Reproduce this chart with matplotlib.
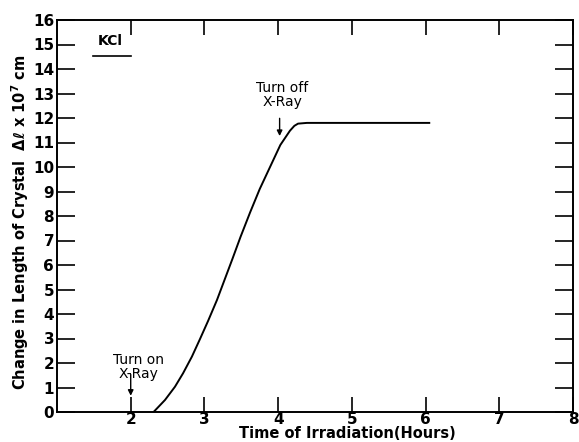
import matplotlib
matplotlib.use("Agg")
import matplotlib.pyplot as plt

# Data
hours = [2.31, 2.465, 2.60, 2.71, 2.83, 2.94, 3.05, 3.17, 3.28, 3.38, 3.49, 3.62, 3.75, 3.89, 4.03, 4.16, 4.22, 4.27, 4.39, 5.0, 5.5, 6.05]
length = [0.0, 0.49, 1.03, 1.58, 2.26, 2.98, 3.72, 4.57, 5.45, 6.25, 7.15, 8.15, 9.10, 10.0, 10.9, 11.48, 11.68, 11.77, 11.80, 11.80, 11.80, 11.80]

xticks = [2, 3, 4, 5, 6, 7, 8]
yticks = list(range(0, 17))

plt.rcParams['font.family'] = ['DejaVu Sans']
fig = plt.figure(figsize=(5.79, 4.42), dpi=100)
ax = fig.add_axes([57/579, 1-412/442, (573-57)/579, (412-20)/442])

ax.plot(hours, length, color='black', lw=1.4, solid_joinstyle='round')

ax.set_xlim(1, 8)
ax.set_ylim(0, 16)
ax.set_xticks(xticks)
ax.set_xticklabels([str(t) for t in xticks], fontsize=11, fontweight='bold')
ax.set_yticks(yticks)
ax.set_yticklabels([str(t) for t in yticks], fontsize=11, fontweight='bold')
ax.tick_params(axis='both', direction='in', length=13, width=1.2, pad=2,
               top=True, right=True)
ax.tick_params(axis='x', pad=0, length=11)
for s in ax.spines.values():
    s.set_linewidth(1.4)

ax.set_xlabel("Time of Irradiation(Hours)", fontsize=10.5, fontweight='bold')
ax.xaxis.set_label_coords((347-57)/(573-57), -0.036)
ax.set_ylabel(r"Change in Length of Crystal  $\mathbf{\Delta\ell}$ x 10$^{\mathbf{7}}$ cm",
              fontsize=10.5, fontweight='bold')
ax.yaxis.set_label_coords((31-57)/(573-57), 0.485)

# KCl label with underline
ax.text(1.72, 15.15, "KCl", fontsize=10, fontweight='bold', ha='center', va='center')
ax.plot([1.49, 2.0], [14.55, 14.55], color='black', lw=1.2)

# annotations
ax.annotate("", xy=(2.0, 0.55), xytext=(2.0, 1.65),
            arrowprops=dict(arrowstyle='-|>', color='black', lw=1.0, mutation_scale=8))
ax.text(2.1, 1.85, "Turn on\nX-Ray", fontsize=10, ha='center', va='center', linespacing=1.0)

ax.annotate("", xy=(4.02, 11.15), xytext=(4.02, 12.1),
            arrowprops=dict(arrowstyle='-|>', color='black', lw=1.0, mutation_scale=8))
ax.text(4.06, 12.95, "Turn off\nX-Ray", fontsize=10, ha='center', va='center', linespacing=1.0)

fig.savefig("out.png", dpi=100)
